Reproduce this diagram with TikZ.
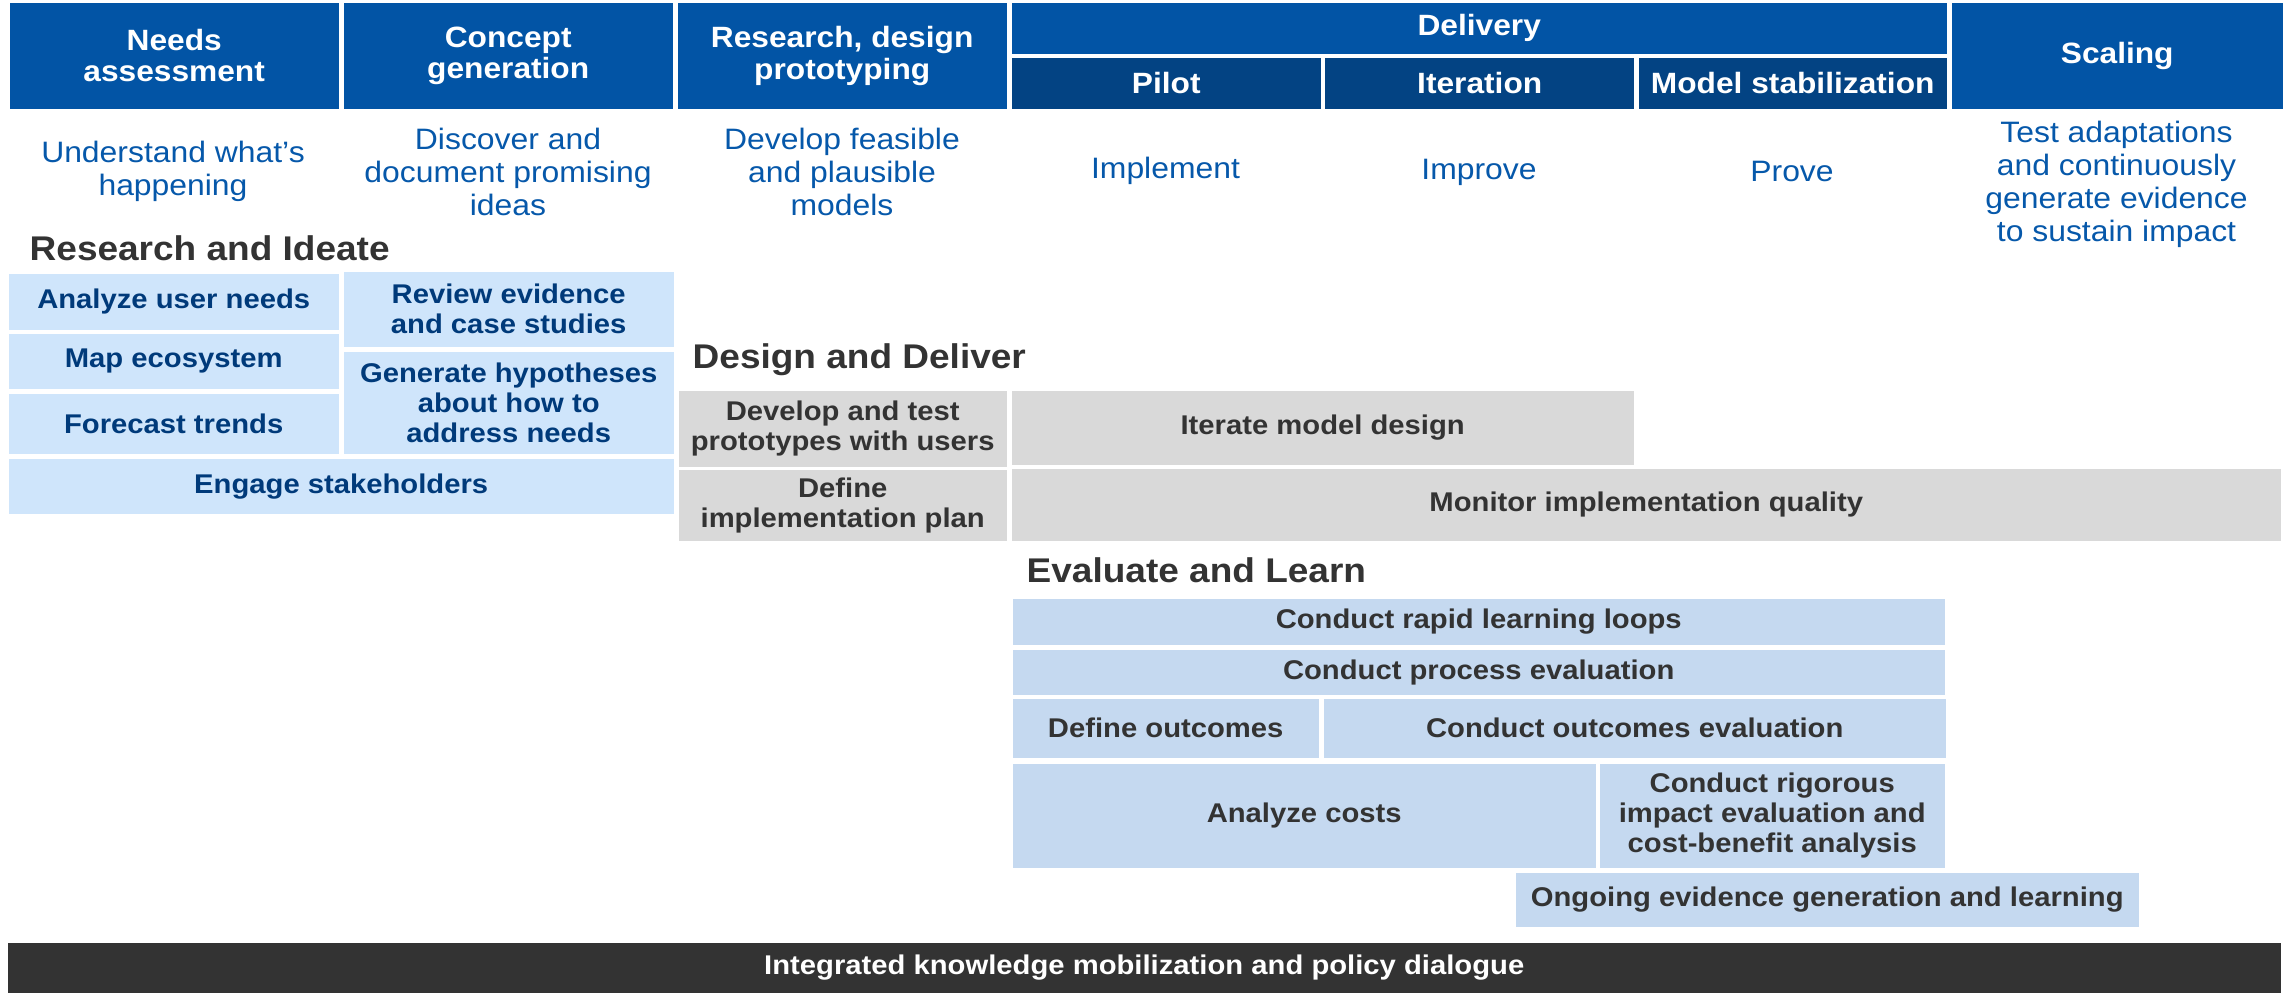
\documentclass[tikz,border=0pt]{standalone}
\usepackage{fontspec}
\setmainfont{Liberation Sans}[FakeStretch=1.08]
\usepackage{tikz}
\definecolor{headblue}{RGB}{2, 84, 165}
\definecolor{subblue}{RGB}{3, 67, 131}
\definecolor{goalblue}{RGB}{6, 88, 170}
\definecolor{ideablue}{RGB}{207, 229, 251}
\definecolor{ideatext}{RGB}{0, 58, 122}
\definecolor{delgray}{RGB}{217, 217, 217}
\definecolor{darktext}{RGB}{51, 51, 51}
\definecolor{learnblue}{RGB}{197, 217, 240}
\tikzset{
	dims/.style 2 args = {minimum width = #1cm, minimum height = #2cm},
	cell/.style = {anchor = north west, inner sep = 0pt, align = center, font = \bfseries\fontsize{7.7}{8.5}\selectfont},
	phasehead/.style = {cell, fill = headblue, text = white, font = \bfseries\fontsize{8.35}{9}\selectfont},
	phasesub/.style = {phasehead, fill = subblue},
	goaltext/.style = {align = center, text = goalblue, font = \fontsize{8.4}{9.4}\selectfont},
	groupname/.style = {anchor = base west, inner sep = 0pt, text = darktext, font = \bfseries\fontsize{9.75}{11}\selectfont},
	ideatebox/.style = {cell, fill = ideablue, text = ideatext},
	deliverbox/.style = {cell, fill = delgray, text = darktext},
	learnbox/.style = {cell, fill = learnblue, text = darktext},
	mobilbar/.style = {cell, fill = darktext, text = white}
}

\begin{document}
\begin{tikzpicture}
\useasboundingbox (0, 0) rectangle (22.87, -9.94);

% phase headers
\node[phasehead, dims = {3.29}{1.06}] (needs) at (0.09, -0.02) {Needs\\assessment};
\node[phasehead, dims = {3.29}{1.06}] (concept) at (3.43, -0.02) {Concept\\generation};
\node[phasehead, dims = {3.29}{1.06}] (design) at (6.77, -0.02) {Research, design\\prototyping};
\node[phasehead, dims = {9.35}{0.51}] (delivery) at (10.11, -0.02) {Delivery};
\node[phasesub, dims = {3.09}{0.51}] (pilot) at (10.11, -0.57) {Pilot};
\node[phasesub, dims = {3.09}{0.51}] (iteration) at (13.245, -0.57) {Iteration};
\node[phasesub, dims = {3.08}{0.51}] (stable) at (16.38, -0.57) {Model stabilization};
\node[phasehead, dims = {3.31}{1.06}] (scaling) at (19.51, -0.02) {Scaling};

% what each phase is for
\node[goaltext] (g1) at (1.73, -1.71) {Understand what's\\happening};
\node[goaltext] (g2) at (5.08, -1.72) {Discover and\\document promising\\ideas};
\node[goaltext] (g3) at (8.42, -1.72) {Develop feasible\\and plausible\\models};
\node[goaltext] (g4) at (11.655, -1.71) {Implement};
\node[goaltext] (g5) at (14.79, -1.72) {Improve};
\node[goaltext] (g6) at (17.92, -1.72) {Prove};
\node[goaltext] (g7) at (21.165, -1.84) {Test adaptations\\and continuously\\generate evidence\\to sustain impact};

% Research and Ideate
\node[groupname] (ideate) at (0.29, -2.61) {Research and Ideate};
\node[ideatebox, dims = {3.30}{0.56}] (users) at (0.08, -2.73) {Analyze user needs};
\node[ideatebox, dims = {3.30}{0.55}] (ecosys) at (0.08, -3.33) {Map ecosystem};
\node[ideatebox, dims = {3.30}{0.60}] (trends) at (0.08, -3.93) {Forecast trends};
\node[ideatebox, dims = {3.30}{0.75}] (review) at (3.43, -2.71) {Review evidence\\and case studies};
\node[ideatebox, dims = {3.30}{1.02}] (hypo) at (3.43, -3.51) {Generate hypotheses\\about how to\\address needs};
\node[ideatebox, dims = {6.65}{0.55}] (stake) at (0.08, -4.58) {Engage stakeholders};

% Design and Deliver
\node[groupname] (deliver) at (6.92, -3.69) {Design and Deliver};
\node[deliverbox, dims = {3.28}{0.76}] (proto) at (6.78, -3.90) {Develop and test\\prototypes with users};
\node[deliverbox, dims = {6.22}{0.74}] (iterate) at (10.11, -3.90) {Iterate model design};
\node[deliverbox, dims = {3.28}{0.71}] (plan) at (6.78, -4.69) {Define\\implementation plan};
\node[deliverbox, dims = {12.69}{0.72}] (monitor) at (10.11, -4.68) {Monitor implementation quality};

% Evaluate and Learn
\node[groupname] (learn) at (10.26, -5.83) {Evaluate and Learn};
\node[learnbox, dims = {9.32}{0.46}] (loops) at (10.12, -5.98) {Conduct rapid learning loops};
\node[learnbox, dims = {9.32}{0.45}] (process) at (10.12, -6.49) {Conduct process evaluation};
\node[learnbox, dims = {3.06}{0.59}] (outdef) at (10.12, -6.98) {Define outcomes};
\node[learnbox, dims = {6.22}{0.59}] (outeval) at (13.23, -6.98) {Conduct outcomes evaluation};
\node[learnbox, dims = {5.83}{1.04}] (costs) at (10.12, -7.63) {Analyze costs};
\node[learnbox, dims = {3.45}{1.04}] (rigor) at (15.99, -7.63) {Conduct rigorous\\impact evaluation and\\cost-benefit analysis};
\node[learnbox, dims = {6.23}{0.54}] (ongoing) at (15.15, -8.72) {Ongoing evidence generation and learning};

% runs under every phase
\node[mobilbar, dims = {22.73}{0.50}] (mobil) at (0.07, -9.42) {Integrated knowledge mobilization and policy dialogue};

\end{tikzpicture}
\end{document}
